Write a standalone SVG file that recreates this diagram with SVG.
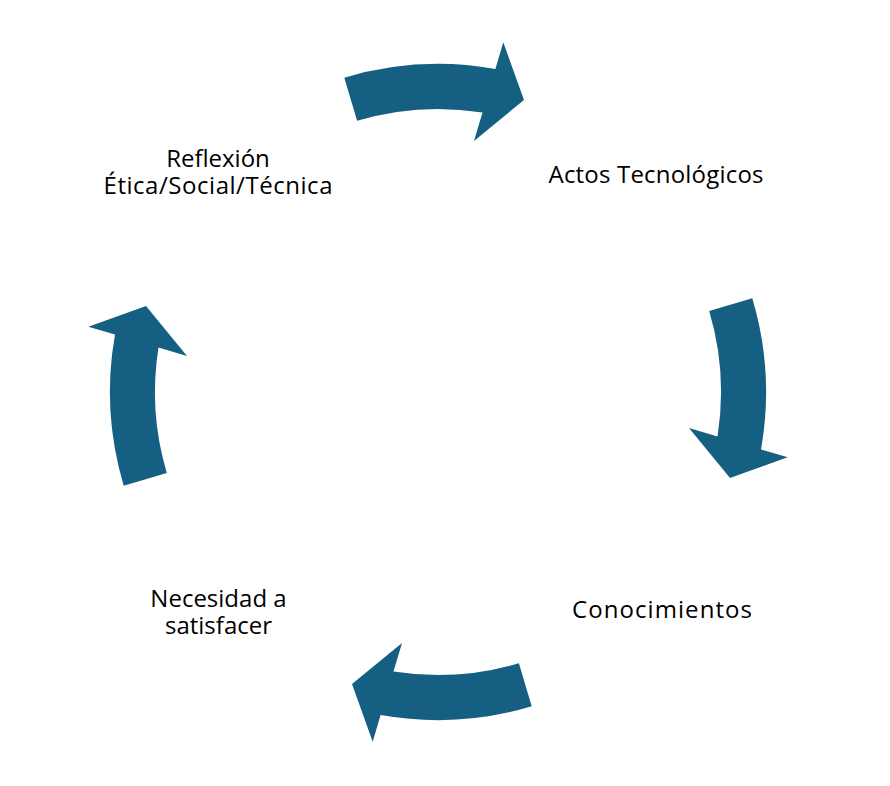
<svg xmlns="http://www.w3.org/2000/svg" xmlns:xlink="http://www.w3.org/1999/xlink" width="890" height="786" viewBox="0 0 890 786">
<style>
.arrow{fill:#156082;stroke:none}
.lbl{font-family:"Open Sans","Liberation Sans",sans-serif;font-size:24px;fill:#000;text-anchor:middle}
</style>
<defs>
<path id="arr" d="M344.3,77.7 A328,328 0 0 1 495.4,69 L503.3,42.3 L524,100 L474,141 L482.5,112.5 A283,283 0 0 0 357.1,120.8 Z"/>
</defs>
<rect width="890" height="786" fill="#fff"/>
<g id="connectors">
<use xlink:href="#arr" class="arrow"/>
<use xlink:href="#arr" class="arrow" transform="rotate(90 438 392)"/>
<use xlink:href="#arr" class="arrow" transform="rotate(180 438 392)"/>
<use xlink:href="#arr" class="arrow" transform="rotate(270 438 392)"/>
</g>
<g id="node-actos"><text class="lbl" x="656" y="182.5" textLength="215" lengthAdjust="spacing">Actos Tecnológicos</text></g>
<g id="node-conocimientos"><text class="lbl" x="662" y="618" textLength="180" lengthAdjust="spacing">Conocimientos</text></g>
<g id="node-necesidad"><text class="lbl" x="218.5" y="606.5">Necesidad a</text><text class="lbl" x="218.5" y="634">satisfacer</text></g>
<g id="node-reflexion"><text class="lbl" x="218" y="167">Reflexión</text><text class="lbl" x="218" y="194" textLength="229" lengthAdjust="spacing">Ética/Social/Técnica</text></g>
</svg>
